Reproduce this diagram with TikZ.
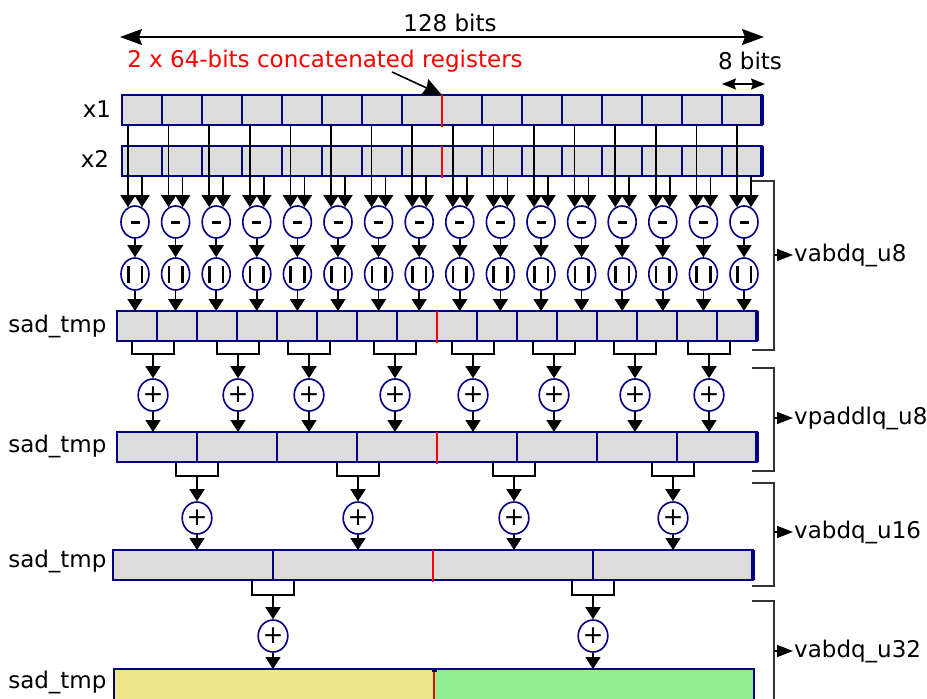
\documentclass[tikz,border=0pt]{standalone}
\usepackage{fontspec}
\setmainfont{DejaVu Sans}
\usetikzlibrary{arrows.meta,calc,shapes.geometric}
\definecolor{regblue}{RGB}{0,0,128}
\definecolor{regfill}{RGB}{220,220,220}
\definecolor{khaki}{RGB}{240,230,140}
\definecolor{lgreen}{RGB}{144,238,144}

\begin{document}
\begin{tikzpicture}[x=1pt, y=-1pt, >=Stealth, font=\fontsize{23}{27}\selectfont,
		reg/.style={draw=regblue, fill=regfill, line width=2.2pt, minimum width=640pt, minimum height=30pt, inner sep=0pt, outer sep=0pt},
		op/.style={ellipse, draw=regblue, fill=white, line width=1.6pt, minimum width=28pt, minimum height=32pt, inner sep=0pt},
		arr/.style={-{Triangle[length=12pt,width=15pt]}, line width=1.6pt},
		brk/.style={line width=1.8pt},
		side/.style={draw=black!80, line width=1.5pt},
		sidearr/.style={-{Triangle[length=16pt,width=12pt]}, line width=1.5pt}]
		\useasboundingbox (0,0) rectangle (927,699);
		\clip (0,0) rectangle (927,699);
		\node (tbits) at (450,23) {128 bits};
		\coordinate (dl) at (120,37);
		\coordinate (dr) at (764,37);
		\draw[{Stealth[length=22pt,width=16pt,inset=3pt]}-{Stealth[length=22pt,width=16pt,inset=3pt]}, line width=1.6pt] (dl) -- (dr);
		\node[red] (tcat) at (325,61) {2 x 64-bits concatenated registers};
		\node (tbyte) at (750,61) {8 bits};
		\node (lx1) at (97,109) {x1};
		\node (lx2) at (95,159) {x2};
		\node[reg] (x1) at (442,110) {};
		\node[reg] (x2) at (442,161) {};
		\node[reg] (s1) at (437,326) {};
		\node[reg] (s2) at (437,447) {};
		\node[reg] (s3) at (433,565) {};
		\node[reg, draw=none, fill=none, minimum height=36pt] (s4) at (434,687) {};
		\coordinate (cp) at (392,72);
		\draw[-{Stealth[length=19pt,width=17pt,inset=2pt]}, line width=1.6pt] (cp) -- (x1.north);
		\draw[{Stealth[length=14pt,width=11pt,inset=2pt]}-{Stealth[length=14pt,width=11pt,inset=2pt]}, line width=1.5pt] ([xshift=-40,yshift=11]x1.north east) -- ([xshift=3,yshift=11]x1.north east);
		\foreach \r/\w/\n in {x1/40/15, x2/40/15, s1/40/15, s2/80/7, s3/160/3} {
			\foreach \k in {1,...,\n}
				\draw[regblue, line width=1.6pt] ([xshift=\k*\w]\r.north west) -- ([xshift=\k*\w]\r.south west);
			\draw[red, line width=2.2pt] (\r.north) -- ([yshift=-2]\r.south);
			\draw[regblue, line width=3.5pt] (\r.north east) -- (\r.south east);
		}
		\fill[khaki] (s4.north west) rectangle (s4.south);
		\fill[lgreen] (s4.north) rectangle (s4.south east);
		\draw[regblue, line width=2.2pt] (s4.north west) rectangle (s4.south east);
		\draw[red, line width=2.2pt] (s4.north) -- (s4.south);
		\fill[regblue] ([xshift=-2.5]s4.north) rectangle ([xshift=2.5,yshift=-3]s4.north);
		\node[anchor=east] (ls1) at (110,326) {sad\_tmp};
		\node[anchor=east] (ls2) at (110,446) {sad\_tmp};
		\node[anchor=east] (ls3) at (110,561) {sad\_tmp};
		\node[anchor=east] (ls4) at (110,682) {sad\_tmp};
		\foreach \i in {1,...,16} {
			\node[op] (m\i) at ({135+40.6*(\i-1)},222) {\rule{9pt}{3pt}};
			\node[op] (v\i) at ({135+40.6*(\i-1)},274) {\rule{2.6pt}{17pt}\hspace{11pt}\rule{2.6pt}{17pt}};
			\draw[arr] ([xshift=-7]m\i.north |- x1.south) -- ([xshift=-7,yshift=-2]m\i.north);
			\draw[arr] ([xshift=7]m\i.north |- x2.south) -- ([xshift=7,yshift=-2]m\i.north);
			\draw[arr] (m\i) -- (v\i);
			\draw[arr] (v\i) -- (v\i |- s1.north);
		}
		\foreach \c [count=\i] in {153,238,309,395,473,554,635,709} {
			\node[op] (p\i) at (\c,395) {\fontsize{25}{25}\selectfont+};
			\draw[brk] ([xshift=-21]p\i.north |- s1.south) -- ++(0,13) -| ([xshift=21]p\i.north |- s1.south);
			\coordinate (b\i) at ($(p\i.north |- s1.south)+(0,13)$);
			\draw[arr] (b\i) -- (p\i);
			\draw[arr] (p\i) -- (p\i |- s2.north);
		}
		\foreach \c [count=\i] in {197,358,514,673} {
			\node[op] (q\i) at (\c,518) {\fontsize{25}{25}\selectfont+};
			\draw[brk] ([xshift=-21]q\i.north |- s2.south) -- ++(0,14) -| ([xshift=21]q\i.north |- s2.south);
			\coordinate (c\i) at ($(q\i.north |- s2.south)+(0,14)$);
			\draw[arr] (c\i) -- (q\i);
			\draw[arr] (q\i) -- (q\i |- s3.north);
		}
		\foreach \c [count=\i] in {273,593} {
			\node[op] (r\i) at (\c,636) {\fontsize{25}{25}\selectfont+};
			\draw[brk] ([xshift=-21]r\i.north |- s3.south) -- ++(0,15) -| ([xshift=21]r\i.north |- s3.south);
			\coordinate (d\i) at ($(r\i.north |- s3.south)+(0,15)$);
			\draw[arr] (d\i) -- (r\i);
			\draw[arr] (r\i) -- (r\i |- s4.north);
		}
		\foreach \ya/\yb/\ym/\lab [count=\j] in {181/350/255/vabdq\_u8, 368/471/418/vpaddlq\_u8, 483/586/532/vabdq\_u16, 601/730/651/vabdq\_u32} {
			\draw[side] (752,\ya) -- (774,\ya) -- (774,\yb) -- (752,\yb);
			\coordinate (e\j) at (774,\ym);
			\node[anchor=west, inner sep=1pt] (l\j) at (793,\ym) {\lab};
			\draw[sidearr] (e\j) -- (l\j.west);
		}
	\end{tikzpicture}
\end{document}
